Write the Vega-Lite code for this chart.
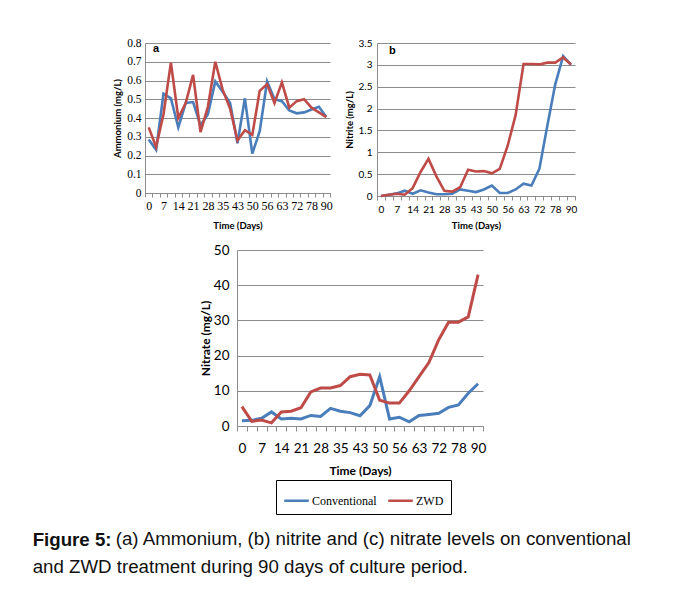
{
  "$schema": "https://vega.github.io/schema/vega-lite/v6.json",
  "background": "white",
  "padding": {"left": 32, "top": 37, "right": 5, "bottom": 5},
  "datasets": {
    "amm": [
      {"day": 0, "Conventional": 0.285, "ZWD": 0.35},
      {"day": 3, "Conventional": 0.23, "ZWD": 0.245},
      {"day": 7, "Conventional": 0.53, "ZWD": 0.42},
      {"day": 10, "Conventional": 0.505, "ZWD": 0.695},
      {"day": 14, "Conventional": 0.35, "ZWD": 0.4},
      {"day": 17, "Conventional": 0.48, "ZWD": 0.48},
      {"day": 21, "Conventional": 0.485, "ZWD": 0.63},
      {"day": 24, "Conventional": 0.36, "ZWD": 0.325},
      {"day": 28, "Conventional": 0.42, "ZWD": 0.46},
      {"day": 31, "Conventional": 0.595, "ZWD": 0.7},
      {"day": 35, "Conventional": 0.54, "ZWD": 0.55},
      {"day": 39, "Conventional": 0.48, "ZWD": 0.45},
      {"day": 43, "Conventional": 0.265, "ZWD": 0.28},
      {"day": 46, "Conventional": 0.505, "ZWD": 0.335},
      {"day": 50, "Conventional": 0.21, "ZWD": 0.31},
      {"day": 53, "Conventional": 0.33, "ZWD": 0.545},
      {"day": 56, "Conventional": 0.595, "ZWD": 0.58},
      {"day": 59, "Conventional": 0.5, "ZWD": 0.48},
      {"day": 63, "Conventional": 0.49, "ZWD": 0.59},
      {"day": 67, "Conventional": 0.44, "ZWD": 0.455},
      {"day": 72, "Conventional": 0.425, "ZWD": 0.49},
      {"day": 75, "Conventional": 0.43, "ZWD": 0.5},
      {"day": 78, "Conventional": 0.445, "ZWD": 0.455},
      {"day": 84, "Conventional": 0.46, "ZWD": 0.43},
      {"day": 90, "Conventional": 0.405, "ZWD": 0.405}
    ],
    "nit": [
      {"day": 0, "Conventional": 0.0, "ZWD": 0.0},
      {"day": 3, "Conventional": 0.03, "ZWD": 0.03},
      {"day": 7, "Conventional": 0.06, "ZWD": 0.05},
      {"day": 10, "Conventional": 0.12, "ZWD": 0.03},
      {"day": 14, "Conventional": 0.05, "ZWD": 0.18},
      {"day": 17, "Conventional": 0.13, "ZWD": 0.55},
      {"day": 21, "Conventional": 0.08, "ZWD": 0.85},
      {"day": 24, "Conventional": 0.04, "ZWD": 0.45},
      {"day": 28, "Conventional": 0.04, "ZWD": 0.12},
      {"day": 31, "Conventional": 0.05, "ZWD": 0.1},
      {"day": 35, "Conventional": 0.15, "ZWD": 0.2},
      {"day": 39, "Conventional": 0.12, "ZWD": 0.6},
      {"day": 43, "Conventional": 0.09, "ZWD": 0.56},
      {"day": 46, "Conventional": 0.15, "ZWD": 0.57},
      {"day": 50, "Conventional": 0.24, "ZWD": 0.52},
      {"day": 53, "Conventional": 0.07, "ZWD": 0.62},
      {"day": 56, "Conventional": 0.07, "ZWD": 1.15},
      {"day": 59, "Conventional": 0.15, "ZWD": 1.85},
      {"day": 63, "Conventional": 0.28, "ZWD": 3.02},
      {"day": 67, "Conventional": 0.24, "ZWD": 3.02},
      {"day": 72, "Conventional": 0.62, "ZWD": 3.01},
      {"day": 75, "Conventional": 1.6, "ZWD": 3.05},
      {"day": 78, "Conventional": 2.55, "ZWD": 3.05},
      {"day": 84, "Conventional": 3.2, "ZWD": 3.17},
      {"day": 90, "Conventional": 3.0, "ZWD": 3.01}
    ],
    "nat": [
      {"day": 0, "Conventional": 1.5, "ZWD": 5.5},
      {"day": 3, "Conventional": 1.6, "ZWD": 1.3},
      {"day": 7, "Conventional": 2.2, "ZWD": 1.7},
      {"day": 10, "Conventional": 4.0, "ZWD": 0.9},
      {"day": 14, "Conventional": 2.0, "ZWD": 4.0},
      {"day": 17, "Conventional": 2.2, "ZWD": 4.2},
      {"day": 21, "Conventional": 2.0, "ZWD": 5.2},
      {"day": 24, "Conventional": 3.0, "ZWD": 9.7},
      {"day": 28, "Conventional": 2.7, "ZWD": 10.8},
      {"day": 31, "Conventional": 5.0, "ZWD": 10.8},
      {"day": 35, "Conventional": 4.2, "ZWD": 11.5},
      {"day": 39, "Conventional": 3.8, "ZWD": 14.0},
      {"day": 43, "Conventional": 2.9, "ZWD": 14.7},
      {"day": 46, "Conventional": 5.8, "ZWD": 14.5},
      {"day": 50, "Conventional": 14.0, "ZWD": 7.3},
      {"day": 53, "Conventional": 2.0, "ZWD": 6.5},
      {"day": 56, "Conventional": 2.5, "ZWD": 6.5},
      {"day": 59, "Conventional": 1.2, "ZWD": 10.0},
      {"day": 63, "Conventional": 3.0, "ZWD": 14.0},
      {"day": 67, "Conventional": 3.3, "ZWD": 18.0},
      {"day": 72, "Conventional": 3.6, "ZWD": 24.5},
      {"day": 75, "Conventional": 5.3, "ZWD": 29.5},
      {"day": 78, "Conventional": 6.0, "ZWD": 29.5},
      {"day": 84, "Conventional": 9.3, "ZWD": 31.0},
      {"day": 90, "Conventional": 12.0, "ZWD": 43.0}
    ]
  },
  "title": {
    "text": "Figure 5:",
    "subtitle": ["\u200b\u00a0\u00a0\u00a0\u00a0\u00a0\u00a0\u00a0\u00a0\u00a0\u00a0\u00a0\u00a0\u00a0\u00a0\u00a0\u00a0(a) Ammonium, (b) nitrite and (c) nitrate levels on conventional", "and ZWD treatment during 90 days of culture period."],
    "orient": "bottom",
    "anchor": "start",
    "frame": "bounds",
    "font": "Liberation Sans",
    "fontSize": 18.7,
    "fontWeight": "bold",
    "color": "#111",
    "subtitleFont": "Liberation Sans",
    "subtitleFontSize": 18.7,
    "subtitleFontWeight": "normal",
    "subtitleColor": "#111",
    "subtitleLineHeight": 28,
    "subtitlePadding": -19,
    "offset": 16,
    "dx": -80
  },
  "spacing": 13,
  "resolve": {"legend": {"color": "independent"}},
  "vconcat": [
    {
      "hconcat": [
        {
          "width": 185,
          "height": 150,
          "title": {"text": "a", "anchor": "start", "frame": "group", "orient": "top", "offset": -17, "dx": 8, "font": "Liberation Sans", "fontWeight": "bold", "fontSize": 11, "color": "#000"},
          "data": {"name": "amm"},
          "transform": [{"fold": ["Conventional", "ZWD"], "as": ["series", "value"]}],
          "mark": {"type": "line", "strokeWidth": 2.6},
          "encoding": {
            "x": {"field": "day", "type": "ordinal", "bandPosition": 0.5,
              "scale": {"type": "band", "paddingInner": 0, "paddingOuter": 0},
              "axis": {"title": "Time (Days)", "titleFont": "Lato", "titleFontWeight": "bold", "titleFontSize": 9.5, "titlePadding": 9,
                "labelFont": "Liberation Serif", "labelFontSize": 12, "labelAngle": 0, "labelOverlap": false, "labelPadding": 3,
                "labelExpr": "indexof([0,7,14,21,28,35,43,50,56,63,72,78,90], datum.value) >= 0 ? datum.label : ''",
                "tickBand": "extent", "tickSize": 4, "grid": false}},
            "y": {"field": "value", "type": "quantitative", "scale": {"domain": [0, 0.8]},
              "axis": {"title": "Ammonium (mg/L)", "titleFont": "Lato", "titleFontWeight": "bold", "titleFontSize": 9.5, "titlePadding": 4,
                "values": [0, 0.1, 0.2, 0.3, 0.4, 0.5, 0.6, 0.7, 0.8], "format": "~g",
                "labelFont": "Liberation Serif", "labelFontSize": 11.5, "labelPadding": 4, "ticks": false, "grid": true}},
            "color": {"field": "series", "type": "nominal", "scale": {"domain": ["Conventional", "ZWD"], "range": ["#4A7EBB", "#BE4B48"]}, "legend": null}
          }
        },
        {
          "width": 198,
          "height": 153,
          "title": {"text": "b", "anchor": "start", "frame": "group", "orient": "top", "offset": -18, "dx": 12, "font": "Liberation Sans", "fontWeight": "bold", "fontSize": 11, "color": "#000"},
          "data": {"name": "nit"},
          "transform": [{"fold": ["Conventional", "ZWD"], "as": ["series", "value"]}],
          "mark": {"type": "line", "strokeWidth": 2.6},
          "encoding": {
            "x": {"field": "day", "type": "ordinal", "bandPosition": 0.5,
              "scale": {"type": "band", "paddingInner": 0, "paddingOuter": 0},
              "axis": {"title": "Time (Days)", "titleFont": "Lato", "titleFontWeight": "bold", "titleFontSize": 9.5, "titlePadding": 6,
                "labelFont": "Lato", "labelFontSize": 10, "labelAngle": 0, "labelOverlap": false, "labelPadding": 4,
                "labelExpr": "indexof([0,7,14,21,28,35,43,50,56,63,72,78,90], datum.value) >= 0 ? datum.label : ''",
                "tickBand": "extent", "tickSize": 4, "grid": false}},
            "y": {"field": "value", "type": "quantitative", "scale": {"domain": [0, 3.5]},
              "axis": {"title": "Nitrite (mg/L)", "titleFont": "Lato", "titleFontWeight": "bold", "titleFontSize": 9.5, "titlePadding": 4,
                "values": [0, 0.5, 1, 1.5, 2, 2.5, 3, 3.5], "format": "~g",
                "labelFont": "Lato", "labelFontSize": 10, "labelPadding": 5, "ticks": false, "grid": true}},
            "color": {"field": "series", "type": "nominal", "scale": {"domain": ["Conventional", "ZWD"], "range": ["#4A7EBB", "#BE4B48"]}, "legend": null}
          }
        }
      ],
      "spacing": 11
    },
    {
      "hconcat": [
        {
          "width": 54,
          "height": 10,
          "data": {"values": []},
          "mark": "point"
        },
        {
          "width": 246,
          "height": 176,
          "data": {"name": "nat"},
          "transform": [{"fold": ["Conventional", "ZWD"], "as": ["series", "value"]}],
          "mark": {"type": "line", "strokeWidth": 3},
          "encoding": {
            "x": {"field": "day", "type": "ordinal", "bandPosition": 0.5,
              "scale": {"type": "band", "paddingInner": 0, "paddingOuter": 0},
              "axis": {"title": "Time (Days)", "titleFont": "Lato", "titleFontWeight": "bold", "titleFontSize": 12, "titlePadding": 11,
                "labelFont": "Lato", "labelFontSize": 13.5, "labelAngle": 0, "labelOverlap": false, "labelPadding": 10,
                "labelExpr": "indexof([0,7,14,21,28,35,43,50,56,63,72,78,90], datum.value) >= 0 ? datum.label : ''",
                "tickBand": "extent", "tickSize": 5, "grid": false}},
            "y": {"field": "value", "type": "quantitative", "scale": {"domain": [0, 50]},
              "axis": {"title": "Nitrate (mg/L)", "titleFont": "Lato", "titleFontWeight": "bold", "titleFontSize": 12, "titlePadding": 1,
                "values": [0, 10, 20, 30, 40, 50],
                "labelFont": "Lato", "labelFontSize": 13.5, "labelPadding": 8, "ticks": false, "grid": true}},
            "color": {"field": "series", "type": "nominal", "scale": {"domain": ["Conventional", "ZWD"], "range": ["#4A7EBB", "#BE4B48"]},
              "legend": {"orient": "none", "legendX": 131, "legendY": 230, "direction": "horizontal", "title": null,
                "symbolType": "stroke", "symbolStrokeWidth": 2.5, "symbolSize": 600, "labelFont": "Liberation Serif", "labelFontSize": 12,
                "labelColor": "#000", "strokeColor": "#000", "padding": 7, "columnPadding": 6, "labelOffset": 2}}
          }
        }
      ],
      "spacing": 0
    }
  ],
  "config": {
    "view": {"stroke": null},
    "axis": {"gridColor": "#8c8c8c", "gridWidth": 1, "domainColor": "#8c8c8c", "tickColor": "#8c8c8c", "labelColor": "#000", "titleColor": "#000"}
  }
}
